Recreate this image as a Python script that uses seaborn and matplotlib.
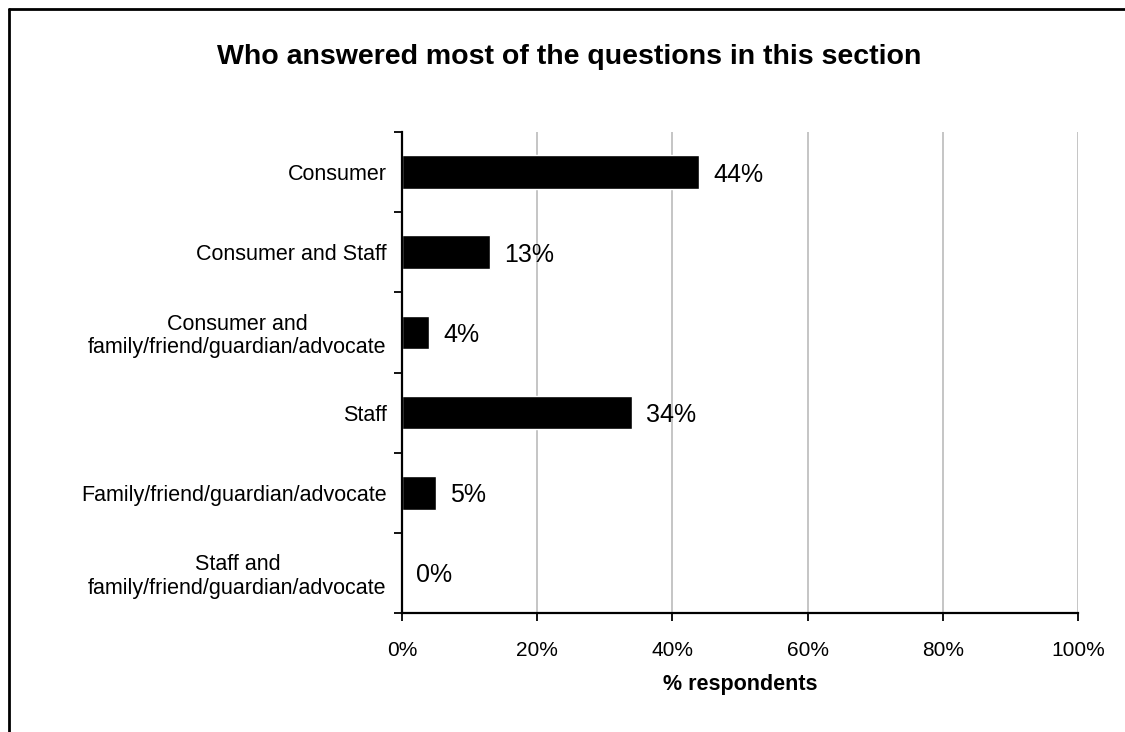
import matplotlib
matplotlib.use("Agg")
import matplotlib.pyplot as plt
import seaborn as sns
import pandas as pd

categories = [
    "Consumer",
    "Consumer and Staff",
    "Consumer and\nfamily/friend/guardian/advocate",
    "Staff",
    "Family/friend/guardian/advocate",
    "Staff and\nfamily/friend/guardian/advocate",
]
percent = [44, 13, 4, 34, 5, 0]
x_ticks = [0, 20, 40, 60, 80, 100]
x_tick_labels = ["0%", "20%", "40%", "60%", "80%", "100%"]

title = "Who answered most of the questions in this section"
x_label = "% respondents"

df = pd.DataFrame({"category": categories, "percent": percent})

sns.set_theme(style="white")
plt.rcParams["font.family"] = ["Liberation Sans", "DejaVu Sans"]
plt.rcParams["text.color"] = "black"
plt.rcParams["axes.labelcolor"] = "black"
plt.rcParams["xtick.color"] = "black"
plt.rcParams["ytick.color"] = "black"

fig = plt.figure(figsize=(11.25, 7.32), dpi=100)
ax = fig.add_axes([402 / 1125, 1 - 613 / 732, 676 / 1125, (613 - 132) / 732])

sns.barplot(data=df, x="percent", y="category", orient="h", color="black",
            saturation=1, width=0.42, ax=ax)

ax.set_xlim(0, 100)
ax.set_ylim(len(categories) - 0.5, -0.5)
ax.set_xticks(x_ticks)
ax.set_xticklabels(x_tick_labels, fontsize=15)
ax.xaxis.grid(True, color="#c0c0c0", linewidth=1.3)
ax.set_axisbelow(True)

# category labels sit between boundary tick marks
ax.set_yticks(range(len(categories)))
ax.set_yticklabels(categories, fontsize=15.5, multialignment="center",
                   linespacing=1.15)
ax.tick_params(axis="y", which="major", left=True, length=0, pad=11)
ax.set_yticks([i - 0.5 for i in range(len(categories) + 1)], minor=True)
ax.tick_params(axis="y", which="minor", left=True, length=6, width=1.3,
               color="black", direction="out")
ax.tick_params(axis="x", which="major", bottom=True, length=6, width=1.3,
               color="black", direction="out", pad=14)

for side in ["top", "right"]:
    ax.spines[side].set_visible(False)
for side in ["left", "bottom"]:
    ax.spines[side].set_color("black")
    ax.spines[side].set_linewidth(1.6)

ax.set_xlabel(x_label, fontsize=15.5, fontweight="bold", labelpad=10)
ax.set_ylabel("")

labels = ax.bar_label(ax.containers[0], labels=[f"{v}%" for v in percent],
                      padding=10, fontsize=18)
for t in labels:
    t.set_va("center_baseline")

fig.text(569 / 1125, 1 - 57 / 732, title, ha="center", va="center",
         fontsize=20.5, fontweight="bold")

# outer frame (left and top edges)
fig.add_artist(plt.Line2D([8.5 / 1125, 8.5 / 1125], [0, 1 - 8.5 / 732],
                          transform=fig.transFigure, color="black", linewidth=2))
fig.add_artist(plt.Line2D([8.5 / 1125, 1], [1 - 8.5 / 732, 1 - 8.5 / 732],
                          transform=fig.transFigure, color="black", linewidth=2))

fig.savefig("out.png", dpi=100)
